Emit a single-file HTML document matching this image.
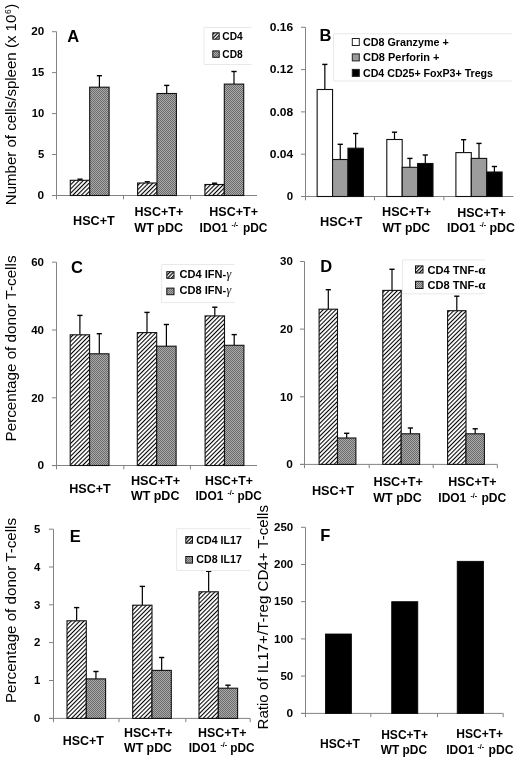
<!DOCTYPE html>
<html><head><meta charset="utf-8"><style>
html,body{margin:0;padding:0;background:#fff;}
svg{display:block;font-family:"Liberation Sans", sans-serif;will-change:transform;filter:blur(0.25px);}
</style></head><body>
<svg width="520" height="759" viewBox="0 0 520 759">
<defs>
<pattern id="hA" patternUnits="userSpaceOnUse" width="3.0" height="3.0" patternTransform="rotate(45)">
<rect width="3.0" height="3.0" fill="#fff"/><rect x="0" y="0" width="1.1" height="3.0" fill="#000"/></pattern>
<pattern id="hC" patternUnits="userSpaceOnUse" width="3.0" height="3.0" patternTransform="rotate(45)">
<rect width="3.0" height="3.0" fill="#fff"/><rect x="0" y="0" width="1.05" height="3.0" fill="#000"/></pattern>
<pattern id="hS" patternUnits="userSpaceOnUse" width="2.6" height="2.6" patternTransform="rotate(45)">
<rect width="2.6" height="2.6" fill="#fff"/><rect x="0" y="0" width="1.2" height="2.6" fill="#000"/></pattern>
<pattern id="chk" patternUnits="userSpaceOnUse" width="2" height="2">
<rect width="2" height="2" fill="#a9a9a9"/><rect width="1" height="1" fill="#6c6c6c"/><rect x="1" y="1" width="1" height="1" fill="#6c6c6c"/></pattern>
</defs>
<rect width="520" height="759" fill="#fff"/>
<line x1="56.5" y1="31.7" x2="56.5" y2="199.3" stroke="#838383" stroke-width="1"/>
<line x1="52.0" y1="195.5" x2="257" y2="195.5" stroke="#838383" stroke-width="1"/>
<line x1="52.0" y1="31.7" x2="56.5" y2="31.7" stroke="#838383" stroke-width="1"/>
<text x="44.2" y="35.4" font-size="10.5" font-weight="bold" text-anchor="end" textLength="13" lengthAdjust="spacingAndGlyphs">20</text>
<line x1="52.0" y1="72.6" x2="56.5" y2="72.6" stroke="#838383" stroke-width="1"/>
<text x="44.2" y="76.3" font-size="10.5" font-weight="bold" text-anchor="end" textLength="12.5" lengthAdjust="spacingAndGlyphs">15</text>
<line x1="52.0" y1="113.6" x2="56.5" y2="113.6" stroke="#838383" stroke-width="1"/>
<text x="44.2" y="117.3" font-size="10.5" font-weight="bold" text-anchor="end" textLength="12.5" lengthAdjust="spacingAndGlyphs">10</text>
<line x1="52.0" y1="154.5" x2="56.5" y2="154.5" stroke="#838383" stroke-width="1"/>
<text x="44.2" y="158.2" font-size="10.5" font-weight="bold" text-anchor="end" textLength="6.3" lengthAdjust="spacingAndGlyphs">5</text>
<line x1="52.0" y1="195.5" x2="56.5" y2="195.5" stroke="#838383" stroke-width="1"/>
<text x="44.2" y="199.2" font-size="10.5" font-weight="bold" text-anchor="end" textLength="6.6" lengthAdjust="spacingAndGlyphs">0</text>
<line x1="123.5" y1="195.5" x2="123.5" y2="199.3" stroke="#838383" stroke-width="1"/>
<line x1="190.5" y1="195.5" x2="190.5" y2="199.3" stroke="#838383" stroke-width="1"/>
<line x1="80.0" y1="180.3" x2="80.0" y2="179.2" stroke="#000" stroke-width="1.2"/>
<line x1="77.4" y1="179.2" x2="82.6" y2="179.2" stroke="#000" stroke-width="1.4"/>
<rect x="70.30" y="180.30" width="19.40" height="15.20" fill="url(#hA)" stroke="#111" stroke-width="1.1"/>
<line x1="99.4" y1="87.2" x2="99.4" y2="75.7" stroke="#000" stroke-width="1.2"/>
<line x1="96.80000000000001" y1="75.7" x2="102.0" y2="75.7" stroke="#000" stroke-width="1.4"/>
<rect x="89.70" y="87.20" width="19.40" height="108.30" fill="url(#chk)" stroke="#111" stroke-width="1.1"/>
<line x1="147.3" y1="183.0" x2="147.3" y2="181.8" stroke="#000" stroke-width="1.2"/>
<line x1="144.70000000000002" y1="181.8" x2="149.9" y2="181.8" stroke="#000" stroke-width="1.4"/>
<rect x="137.60" y="183.00" width="19.40" height="12.50" fill="url(#hA)" stroke="#111" stroke-width="1.1"/>
<line x1="166.7" y1="93.5" x2="166.7" y2="85.4" stroke="#000" stroke-width="1.2"/>
<line x1="164.1" y1="85.4" x2="169.29999999999998" y2="85.4" stroke="#000" stroke-width="1.4"/>
<rect x="157.00" y="93.50" width="19.40" height="102.00" fill="url(#chk)" stroke="#111" stroke-width="1.1"/>
<line x1="214.60000000000002" y1="184.5" x2="214.60000000000002" y2="183.2" stroke="#000" stroke-width="1.2"/>
<line x1="212.00000000000003" y1="183.2" x2="217.20000000000002" y2="183.2" stroke="#000" stroke-width="1.4"/>
<rect x="204.90" y="184.50" width="19.40" height="11.00" fill="url(#hA)" stroke="#111" stroke-width="1.1"/>
<line x1="234.0" y1="84.1" x2="234.0" y2="71.5" stroke="#000" stroke-width="1.2"/>
<line x1="231.4" y1="71.5" x2="236.6" y2="71.5" stroke="#000" stroke-width="1.4"/>
<rect x="224.30" y="84.10" width="19.40" height="111.40" fill="url(#chk)" stroke="#111" stroke-width="1.1"/>
<text x="67.3" y="41.9" font-size="16.5" font-weight="bold" text-anchor="start">A</text>
<path d="M251.5,27.5 H204 V64.5 H251.5" fill="none" stroke="#e9e9e9" stroke-width="1"/>
<rect x="212.80" y="32.80" width="6.40" height="6.40" fill="url(#hS)" stroke="#111" stroke-width="1"/>
<rect x="212.80" y="50.90" width="6.40" height="6.40" fill="url(#chk)" stroke="#111" stroke-width="1"/>
<text x="222.3" y="39.9" font-size="11.3" font-weight="bold" textLength="20.4" lengthAdjust="spacingAndGlyphs">CD4</text>
<text x="222.3" y="57.7" font-size="11.3" font-weight="bold" textLength="20.4" lengthAdjust="spacingAndGlyphs">CD8</text>
<text x="73" y="225.3" font-size="12.3" font-weight="bold" text-anchor="start" textLength="41.8" lengthAdjust="spacingAndGlyphs">HSC+T</text>
<text x="134.5" y="216.2" font-size="12.3" font-weight="bold" text-anchor="start" textLength="48.7" lengthAdjust="spacingAndGlyphs">HSC+T+</text>
<text x="134.3" y="231.5" font-size="12.3" font-weight="bold" text-anchor="start" textLength="48.9" lengthAdjust="spacingAndGlyphs">WT pDC</text>
<text x="209.3" y="215.8" font-size="12.3" font-weight="bold" text-anchor="start" textLength="48.8" lengthAdjust="spacingAndGlyphs">HSC+T+</text>
<text x="199.6" y="231.5" font-size="12.3" font-weight="bold" text-anchor="start" textLength="28.2" lengthAdjust="spacingAndGlyphs">IDO1</text>
<text x="231.6" y="227.0" font-size="7" font-weight="bold">-/-</text>
<text x="242.9" y="231.5" font-size="12.3" font-weight="bold" text-anchor="start" textLength="24.6" lengthAdjust="spacingAndGlyphs">pDC</text>
<text transform="translate(16.3,205.2) rotate(-90)" font-size="14.8" textLength="190.5" lengthAdjust="spacingAndGlyphs">Number of cells/spleen (x 10</text>
<text transform="translate(11.2,13.9) rotate(-90)" font-size="8.5">6</text>
<text transform="translate(16.3,8.8) rotate(-90)" font-size="14.8">)</text>
<line x1="305.5" y1="27.3" x2="305.5" y2="200.3" stroke="#838383" stroke-width="1"/>
<line x1="301.0" y1="196.5" x2="513.5" y2="196.5" stroke="#838383" stroke-width="1"/>
<line x1="301.0" y1="27.3" x2="305.5" y2="27.3" stroke="#838383" stroke-width="1"/>
<text x="293.2" y="31.0" font-size="10.5" font-weight="bold" text-anchor="end" textLength="23.4" lengthAdjust="spacingAndGlyphs">0.16</text>
<line x1="301.0" y1="69.6" x2="305.5" y2="69.6" stroke="#838383" stroke-width="1"/>
<text x="293.2" y="73.3" font-size="10.5" font-weight="bold" text-anchor="end" textLength="23.4" lengthAdjust="spacingAndGlyphs">0.12</text>
<line x1="301.0" y1="111.9" x2="305.5" y2="111.9" stroke="#838383" stroke-width="1"/>
<text x="293.2" y="115.60000000000001" font-size="10.5" font-weight="bold" text-anchor="end" textLength="23.4" lengthAdjust="spacingAndGlyphs">0.08</text>
<line x1="301.0" y1="154.2" x2="305.5" y2="154.2" stroke="#838383" stroke-width="1"/>
<text x="293.2" y="157.89999999999998" font-size="10.5" font-weight="bold" text-anchor="end" textLength="23.4" lengthAdjust="spacingAndGlyphs">0.04</text>
<line x1="301.0" y1="196.5" x2="305.5" y2="196.5" stroke="#838383" stroke-width="1"/>
<text x="293.2" y="200.2" font-size="10.5" font-weight="bold" text-anchor="end" textLength="6.4" lengthAdjust="spacingAndGlyphs">0</text>
<line x1="374.5" y1="196.5" x2="374.5" y2="200.3" stroke="#838383" stroke-width="1"/>
<line x1="443.9" y1="196.5" x2="443.9" y2="200.3" stroke="#838383" stroke-width="1"/>
<line x1="324.84999999999997" y1="89.5" x2="324.84999999999997" y2="64.4" stroke="#000" stroke-width="1.2"/>
<line x1="322.24999999999994" y1="64.4" x2="327.45" y2="64.4" stroke="#000" stroke-width="1.4"/>
<rect x="317.15" y="89.50" width="15.40" height="107.00" fill="#ffffff" stroke="#111" stroke-width="1.1"/>
<line x1="340.25" y1="159.5" x2="340.25" y2="144.3" stroke="#000" stroke-width="1.2"/>
<line x1="337.65" y1="144.3" x2="342.85" y2="144.3" stroke="#000" stroke-width="1.4"/>
<rect x="332.55" y="159.50" width="15.40" height="37.00" fill="#9c9c9c" stroke="#111" stroke-width="1.1"/>
<line x1="355.65" y1="148.2" x2="355.65" y2="133.5" stroke="#000" stroke-width="1.2"/>
<line x1="353.04999999999995" y1="133.5" x2="358.25" y2="133.5" stroke="#000" stroke-width="1.4"/>
<rect x="347.95" y="148.20" width="15.40" height="48.30" fill="#000000" stroke="#111" stroke-width="1.1"/>
<line x1="394.49999999999994" y1="139.5" x2="394.49999999999994" y2="132.2" stroke="#000" stroke-width="1.2"/>
<line x1="391.8999999999999" y1="132.2" x2="397.09999999999997" y2="132.2" stroke="#000" stroke-width="1.4"/>
<rect x="386.80" y="139.50" width="15.40" height="57.00" fill="#ffffff" stroke="#111" stroke-width="1.1"/>
<line x1="409.9" y1="167.3" x2="409.9" y2="158.4" stroke="#000" stroke-width="1.2"/>
<line x1="407.29999999999995" y1="158.4" x2="412.5" y2="158.4" stroke="#000" stroke-width="1.4"/>
<rect x="402.20" y="167.30" width="15.40" height="29.20" fill="#9c9c9c" stroke="#111" stroke-width="1.1"/>
<line x1="425.29999999999995" y1="163.5" x2="425.29999999999995" y2="155.0" stroke="#000" stroke-width="1.2"/>
<line x1="422.69999999999993" y1="155.0" x2="427.9" y2="155.0" stroke="#000" stroke-width="1.4"/>
<rect x="417.60" y="163.50" width="15.40" height="33.00" fill="#000000" stroke="#111" stroke-width="1.1"/>
<line x1="463.59999999999997" y1="152.6" x2="463.59999999999997" y2="139.7" stroke="#000" stroke-width="1.2"/>
<line x1="460.99999999999994" y1="139.7" x2="466.2" y2="139.7" stroke="#000" stroke-width="1.4"/>
<rect x="455.90" y="152.60" width="15.40" height="43.90" fill="#ffffff" stroke="#111" stroke-width="1.1"/>
<line x1="479.0" y1="158.4" x2="479.0" y2="143.4" stroke="#000" stroke-width="1.2"/>
<line x1="476.4" y1="143.4" x2="481.6" y2="143.4" stroke="#000" stroke-width="1.4"/>
<rect x="471.30" y="158.40" width="15.40" height="38.10" fill="#9c9c9c" stroke="#111" stroke-width="1.1"/>
<line x1="494.4" y1="172.0" x2="494.4" y2="166.5" stroke="#000" stroke-width="1.2"/>
<line x1="491.79999999999995" y1="166.5" x2="497.0" y2="166.5" stroke="#000" stroke-width="1.4"/>
<rect x="486.70" y="172.00" width="15.40" height="24.50" fill="#000000" stroke="#111" stroke-width="1.1"/>
<text x="319.5" y="40.5" font-size="16.5" font-weight="bold" text-anchor="start">B</text>
<path d="M512,33.8 H333.5 V81 H512" fill="none" stroke="#e9e9e9" stroke-width="1"/>
<rect x="352.30" y="38.50" width="7.00" height="7.00" fill="#ffffff" stroke="#222" stroke-width="1"/>
<rect x="352.30" y="53.90" width="7.00" height="7.00" fill="#9c9c9c" stroke="#222" stroke-width="1"/>
<rect x="352.30" y="69.40" width="7.00" height="7.00" fill="#000000" stroke="#222" stroke-width="1"/>
<text x="363" y="45.8" font-size="11.5" font-weight="bold" textLength="85.7" lengthAdjust="spacingAndGlyphs">CD8 Granzyme +</text>
<text x="363" y="61.1" font-size="11.5" font-weight="bold" textLength="76.5" lengthAdjust="spacingAndGlyphs">CD8 Perforin +</text>
<text x="363" y="76.6" font-size="11.5" font-weight="bold" textLength="130" lengthAdjust="spacingAndGlyphs">CD4 CD25+ FoxP3+ Tregs</text>
<text x="320" y="225.5" font-size="12.3" font-weight="bold" text-anchor="start" textLength="42.3" lengthAdjust="spacingAndGlyphs">HSC+T</text>
<text x="382" y="216.4" font-size="12.3" font-weight="bold" text-anchor="start" textLength="49.2" lengthAdjust="spacingAndGlyphs">HSC+T+</text>
<text x="382.6" y="231.5" font-size="12.3" font-weight="bold" text-anchor="start" textLength="47.5" lengthAdjust="spacingAndGlyphs">WT pDC</text>
<text x="457.2" y="216.6" font-size="12.3" font-weight="bold" text-anchor="start" textLength="48.6" lengthAdjust="spacingAndGlyphs">HSC+T+</text>
<text x="447" y="231.5" font-size="12.3" font-weight="bold" text-anchor="start" textLength="28.7" lengthAdjust="spacingAndGlyphs">IDO1</text>
<text x="479.5" y="227.0" font-size="7" font-weight="bold">-/-</text>
<text x="489.5" y="231.5" font-size="12.3" font-weight="bold" text-anchor="start" textLength="25.5" lengthAdjust="spacingAndGlyphs">pDC</text>
<line x1="56.5" y1="262.2" x2="56.5" y2="469.3" stroke="#838383" stroke-width="1"/>
<line x1="52.0" y1="465.5" x2="257" y2="465.5" stroke="#838383" stroke-width="1"/>
<line x1="52.0" y1="262.2" x2="56.5" y2="262.2" stroke="#838383" stroke-width="1"/>
<text x="44.0" y="265.9" font-size="10.5" font-weight="bold" text-anchor="end" textLength="12.8" lengthAdjust="spacingAndGlyphs">60</text>
<line x1="52.0" y1="330.0" x2="56.5" y2="330.0" stroke="#838383" stroke-width="1"/>
<text x="44.0" y="333.7" font-size="10.5" font-weight="bold" text-anchor="end" textLength="12.8" lengthAdjust="spacingAndGlyphs">40</text>
<line x1="52.0" y1="397.8" x2="56.5" y2="397.8" stroke="#838383" stroke-width="1"/>
<text x="44.0" y="401.5" font-size="10.5" font-weight="bold" text-anchor="end" textLength="12.8" lengthAdjust="spacingAndGlyphs">20</text>
<line x1="52.0" y1="465.6" x2="56.5" y2="465.6" stroke="#838383" stroke-width="1"/>
<text x="44.0" y="469.3" font-size="10.5" font-weight="bold" text-anchor="end" textLength="6.6" lengthAdjust="spacingAndGlyphs">0</text>
<line x1="123.8" y1="465.5" x2="123.8" y2="469.3" stroke="#838383" stroke-width="1"/>
<line x1="190.4" y1="465.5" x2="190.4" y2="469.3" stroke="#838383" stroke-width="1"/>
<line x1="79.89999999999999" y1="334.8" x2="79.89999999999999" y2="315.4" stroke="#000" stroke-width="1.2"/>
<line x1="77.3" y1="315.4" x2="82.49999999999999" y2="315.4" stroke="#000" stroke-width="1.4"/>
<rect x="70.20" y="334.80" width="19.40" height="130.70" fill="url(#hC)" stroke="#111" stroke-width="1.1"/>
<line x1="99.3" y1="353.8" x2="99.3" y2="333.7" stroke="#000" stroke-width="1.2"/>
<line x1="96.7" y1="333.7" x2="101.89999999999999" y2="333.7" stroke="#000" stroke-width="1.4"/>
<rect x="89.60" y="353.80" width="19.40" height="111.70" fill="url(#chk)" stroke="#111" stroke-width="1.1"/>
<line x1="147.0" y1="332.6" x2="147.0" y2="312.4" stroke="#000" stroke-width="1.2"/>
<line x1="144.4" y1="312.4" x2="149.6" y2="312.4" stroke="#000" stroke-width="1.4"/>
<rect x="137.30" y="332.60" width="19.40" height="132.90" fill="url(#hC)" stroke="#111" stroke-width="1.1"/>
<line x1="166.39999999999998" y1="346.2" x2="166.39999999999998" y2="324.5" stroke="#000" stroke-width="1.2"/>
<line x1="163.79999999999998" y1="324.5" x2="168.99999999999997" y2="324.5" stroke="#000" stroke-width="1.4"/>
<rect x="156.70" y="346.20" width="19.40" height="119.30" fill="url(#chk)" stroke="#111" stroke-width="1.1"/>
<line x1="214.8" y1="315.9" x2="214.8" y2="307.2" stroke="#000" stroke-width="1.2"/>
<line x1="212.20000000000002" y1="307.2" x2="217.4" y2="307.2" stroke="#000" stroke-width="1.4"/>
<rect x="205.10" y="315.90" width="19.40" height="149.60" fill="url(#hC)" stroke="#111" stroke-width="1.1"/>
<line x1="234.2" y1="345.3" x2="234.2" y2="334.6" stroke="#000" stroke-width="1.2"/>
<line x1="231.6" y1="334.6" x2="236.79999999999998" y2="334.6" stroke="#000" stroke-width="1.4"/>
<rect x="224.50" y="345.30" width="19.40" height="120.20" fill="url(#chk)" stroke="#111" stroke-width="1.1"/>
<text x="71.0" y="272.6" font-size="16.5" font-weight="bold" text-anchor="start">C</text>
<path d="M234.6,264.5 H161.6 V302.6 H234.6" fill="none" stroke="#e9e9e9" stroke-width="1"/>
<rect x="166.80" y="271.70" width="7.20" height="6.60" fill="url(#hS)" stroke="#111" stroke-width="1"/>
<rect x="166.80" y="288.10" width="7.20" height="6.60" fill="url(#chk)" stroke="#111" stroke-width="1"/>
<text x="179.6" y="278.0" font-size="11.3" font-weight="bold" textLength="46.6" lengthAdjust="spacingAndGlyphs">CD4 IFN-</text>
<text x="179.6" y="293.8" font-size="11.3" font-weight="bold" textLength="46.6" lengthAdjust="spacingAndGlyphs">CD8 IFN-</text>
<text x="226.4" y="278.0" font-size="12" font-style="italic" font-family="Liberation Serif">γ</text>
<text x="226.4" y="293.8" font-size="12" font-style="italic" font-family="Liberation Serif">γ</text>
<text x="69.2" y="493.4" font-size="12.3" font-weight="bold" text-anchor="start" textLength="41.6" lengthAdjust="spacingAndGlyphs">HSC+T</text>
<text x="130.9" y="484.7" font-size="12.3" font-weight="bold" text-anchor="start" textLength="49.3" lengthAdjust="spacingAndGlyphs">HSC+T+</text>
<text x="130.9" y="499.6" font-size="12.3" font-weight="bold" text-anchor="start" textLength="48.5" lengthAdjust="spacingAndGlyphs">WT pDC</text>
<text x="205" y="484.7" font-size="12.3" font-weight="bold" text-anchor="start" textLength="47.9" lengthAdjust="spacingAndGlyphs">HSC+T+</text>
<text x="195.5" y="499.6" font-size="12.3" font-weight="bold" text-anchor="start" textLength="27.8" lengthAdjust="spacingAndGlyphs">IDO1</text>
<text x="227.5" y="495.1" font-size="7" font-weight="bold">-/-</text>
<text x="237.5" y="499.6" font-size="12.3" font-weight="bold" text-anchor="start" textLength="24.3" lengthAdjust="spacingAndGlyphs">pDC</text>
<text transform="translate(16.2,441.5) rotate(-90)" font-size="14.8" textLength="186" lengthAdjust="spacingAndGlyphs">Percentage of donor T-cells</text>
<line x1="304.5" y1="261.5" x2="304.5" y2="468.2" stroke="#838383" stroke-width="1"/>
<line x1="300.0" y1="464.4" x2="497.4" y2="464.4" stroke="#838383" stroke-width="1"/>
<line x1="300.0" y1="261.5" x2="304.5" y2="261.5" stroke="#838383" stroke-width="1"/>
<text x="292.8" y="265.2" font-size="10.5" font-weight="bold" text-anchor="end" textLength="12.8" lengthAdjust="spacingAndGlyphs">30</text>
<line x1="300.0" y1="329.1" x2="304.5" y2="329.1" stroke="#838383" stroke-width="1"/>
<text x="292.8" y="332.8" font-size="10.5" font-weight="bold" text-anchor="end" textLength="12.8" lengthAdjust="spacingAndGlyphs">20</text>
<line x1="300.0" y1="396.8" x2="304.5" y2="396.8" stroke="#838383" stroke-width="1"/>
<text x="292.8" y="400.5" font-size="10.5" font-weight="bold" text-anchor="end" textLength="12.8" lengthAdjust="spacingAndGlyphs">10</text>
<line x1="300.0" y1="464.4" x2="304.5" y2="464.4" stroke="#838383" stroke-width="1"/>
<text x="292.8" y="468.09999999999997" font-size="10.5" font-weight="bold" text-anchor="end" textLength="6.6" lengthAdjust="spacingAndGlyphs">0</text>
<line x1="369.2" y1="464.4" x2="369.2" y2="468.2" stroke="#838383" stroke-width="1"/>
<line x1="433.2" y1="464.4" x2="433.2" y2="468.2" stroke="#838383" stroke-width="1"/>
<line x1="497.3" y1="464.4" x2="497.3" y2="468.2" stroke="#838383" stroke-width="1"/>
<line x1="328.3" y1="309.2" x2="328.3" y2="289.7" stroke="#000" stroke-width="1.2"/>
<line x1="325.7" y1="289.7" x2="330.90000000000003" y2="289.7" stroke="#000" stroke-width="1.4"/>
<rect x="319.10" y="309.20" width="18.40" height="155.20" fill="url(#hC)" stroke="#111" stroke-width="1.1"/>
<line x1="346.7" y1="438.0" x2="346.7" y2="433.3" stroke="#000" stroke-width="1.2"/>
<line x1="344.09999999999997" y1="433.3" x2="349.3" y2="433.3" stroke="#000" stroke-width="1.4"/>
<rect x="337.50" y="438.00" width="18.40" height="26.40" fill="url(#chk)" stroke="#111" stroke-width="1.1"/>
<line x1="392.0" y1="290.4" x2="392.0" y2="269.3" stroke="#000" stroke-width="1.2"/>
<line x1="389.4" y1="269.3" x2="394.6" y2="269.3" stroke="#000" stroke-width="1.4"/>
<rect x="382.80" y="290.40" width="18.40" height="174.00" fill="url(#hC)" stroke="#111" stroke-width="1.1"/>
<line x1="410.4" y1="433.8" x2="410.4" y2="428.0" stroke="#000" stroke-width="1.2"/>
<line x1="407.79999999999995" y1="428.0" x2="413.0" y2="428.0" stroke="#000" stroke-width="1.4"/>
<rect x="401.20" y="433.80" width="18.40" height="30.60" fill="url(#chk)" stroke="#111" stroke-width="1.1"/>
<line x1="456.8" y1="310.7" x2="456.8" y2="296.2" stroke="#000" stroke-width="1.2"/>
<line x1="454.2" y1="296.2" x2="459.40000000000003" y2="296.2" stroke="#000" stroke-width="1.4"/>
<rect x="447.60" y="310.70" width="18.40" height="153.70" fill="url(#hC)" stroke="#111" stroke-width="1.1"/>
<line x1="475.2" y1="433.8" x2="475.2" y2="428.8" stroke="#000" stroke-width="1.2"/>
<line x1="472.59999999999997" y1="428.8" x2="477.8" y2="428.8" stroke="#000" stroke-width="1.4"/>
<rect x="466.00" y="433.80" width="18.40" height="30.60" fill="url(#chk)" stroke="#111" stroke-width="1.1"/>
<text x="320.3" y="272.2" font-size="16.5" font-weight="bold" text-anchor="start">D</text>
<path d="M485,259.9 H402.5 V293.8 H485" fill="none" stroke="#e9e9e9" stroke-width="1"/>
<rect x="415.50" y="265.90" width="7.50" height="7.10" fill="url(#hS)" stroke="#111" stroke-width="1"/>
<rect x="415.50" y="281.30" width="7.50" height="7.20" fill="url(#chk)" stroke="#111" stroke-width="1"/>
<text x="427.6" y="273.7" font-size="11.3" font-weight="bold" textLength="50.5" lengthAdjust="spacingAndGlyphs">CD4 TNF-</text>
<text x="427.6" y="288.9" font-size="11.3" font-weight="bold" textLength="50.5" lengthAdjust="spacingAndGlyphs">CD8 TNF-</text>
<text x="478.3" y="273.7" font-size="13" font-weight="bold" font-family="Liberation Serif">α</text>
<text x="478.3" y="288.9" font-size="13" font-weight="bold" font-family="Liberation Serif">α</text>
<text x="311.9" y="494.9" font-size="12.3" font-weight="bold" text-anchor="start" textLength="42" lengthAdjust="spacingAndGlyphs">HSC+T</text>
<text x="373.5" y="486.3" font-size="12.3" font-weight="bold" text-anchor="start" textLength="49.3" lengthAdjust="spacingAndGlyphs">HSC+T+</text>
<text x="373.3" y="501.5" font-size="12.3" font-weight="bold" text-anchor="start" textLength="48.5" lengthAdjust="spacingAndGlyphs">WT pDC</text>
<text x="448.2" y="486.4" font-size="12.3" font-weight="bold" text-anchor="start" textLength="48.4" lengthAdjust="spacingAndGlyphs">HSC+T+</text>
<text x="438.3" y="502" font-size="12.3" font-weight="bold" text-anchor="start" textLength="28" lengthAdjust="spacingAndGlyphs">IDO1</text>
<text x="470.5" y="497.5" font-size="7" font-weight="bold">-/-</text>
<text x="481.4" y="502" font-size="12.3" font-weight="bold" text-anchor="start" textLength="24.8" lengthAdjust="spacingAndGlyphs">pDC</text>
<line x1="53.5" y1="529.2" x2="53.5" y2="722.1999999999999" stroke="#838383" stroke-width="1"/>
<line x1="49.0" y1="718.4" x2="250.2" y2="718.4" stroke="#838383" stroke-width="1"/>
<line x1="49.0" y1="529.2" x2="53.5" y2="529.2" stroke="#838383" stroke-width="1"/>
<text x="40.3" y="532.9000000000001" font-size="10.5" font-weight="bold" text-anchor="end" textLength="6.3" lengthAdjust="spacingAndGlyphs">5</text>
<line x1="49.0" y1="567.0" x2="53.5" y2="567.0" stroke="#838383" stroke-width="1"/>
<text x="40.3" y="570.7" font-size="10.5" font-weight="bold" text-anchor="end" textLength="6.3" lengthAdjust="spacingAndGlyphs">4</text>
<line x1="49.0" y1="604.8" x2="53.5" y2="604.8" stroke="#838383" stroke-width="1"/>
<text x="40.3" y="608.5" font-size="10.5" font-weight="bold" text-anchor="end" textLength="6.3" lengthAdjust="spacingAndGlyphs">3</text>
<line x1="49.0" y1="642.6" x2="53.5" y2="642.6" stroke="#838383" stroke-width="1"/>
<text x="40.3" y="646.3000000000001" font-size="10.5" font-weight="bold" text-anchor="end" textLength="6.3" lengthAdjust="spacingAndGlyphs">2</text>
<line x1="49.0" y1="680.5" x2="53.5" y2="680.5" stroke="#838383" stroke-width="1"/>
<text x="40.3" y="684.2" font-size="10.5" font-weight="bold" text-anchor="end" textLength="6.3" lengthAdjust="spacingAndGlyphs">1</text>
<line x1="49.0" y1="718.4" x2="53.5" y2="718.4" stroke="#838383" stroke-width="1"/>
<text x="40.3" y="722.1" font-size="10.5" font-weight="bold" text-anchor="end" textLength="6.6" lengthAdjust="spacingAndGlyphs">0</text>
<line x1="119.0" y1="718.4" x2="119.0" y2="722.1999999999999" stroke="#838383" stroke-width="1"/>
<line x1="185.8" y1="718.4" x2="185.8" y2="722.1999999999999" stroke="#838383" stroke-width="1"/>
<line x1="250.2" y1="718.4" x2="250.2" y2="722.1999999999999" stroke="#838383" stroke-width="1"/>
<line x1="76.65" y1="620.8" x2="76.65" y2="607.6" stroke="#000" stroke-width="1.2"/>
<line x1="74.05000000000001" y1="607.6" x2="79.25" y2="607.6" stroke="#000" stroke-width="1.4"/>
<rect x="67.00" y="620.80" width="19.30" height="97.60" fill="url(#hC)" stroke="#111" stroke-width="1.1"/>
<line x1="95.94999999999999" y1="678.9" x2="95.94999999999999" y2="671.5" stroke="#000" stroke-width="1.2"/>
<line x1="93.35" y1="671.5" x2="98.54999999999998" y2="671.5" stroke="#000" stroke-width="1.4"/>
<rect x="86.30" y="678.90" width="19.30" height="39.50" fill="url(#chk)" stroke="#111" stroke-width="1.1"/>
<line x1="142.35" y1="605.2" x2="142.35" y2="586.4" stroke="#000" stroke-width="1.2"/>
<line x1="139.75" y1="586.4" x2="144.95" y2="586.4" stroke="#000" stroke-width="1.4"/>
<rect x="132.70" y="605.20" width="19.30" height="113.20" fill="url(#hC)" stroke="#111" stroke-width="1.1"/>
<line x1="161.65" y1="670.4" x2="161.65" y2="657.5" stroke="#000" stroke-width="1.2"/>
<line x1="159.05" y1="657.5" x2="164.25" y2="657.5" stroke="#000" stroke-width="1.4"/>
<rect x="152.00" y="670.40" width="19.30" height="48.00" fill="url(#chk)" stroke="#111" stroke-width="1.1"/>
<line x1="208.65" y1="591.8" x2="208.65" y2="571.3" stroke="#000" stroke-width="1.2"/>
<line x1="206.05" y1="571.3" x2="211.25" y2="571.3" stroke="#000" stroke-width="1.4"/>
<rect x="199.00" y="591.80" width="19.30" height="126.60" fill="url(#hC)" stroke="#111" stroke-width="1.1"/>
<line x1="227.95000000000002" y1="688.2" x2="227.95000000000002" y2="685.2" stroke="#000" stroke-width="1.2"/>
<line x1="225.35000000000002" y1="685.2" x2="230.55" y2="685.2" stroke="#000" stroke-width="1.4"/>
<rect x="218.30" y="688.20" width="19.30" height="30.20" fill="url(#chk)" stroke="#111" stroke-width="1.1"/>
<text x="69.7" y="541.7" font-size="16.5" font-weight="bold" text-anchor="start">E</text>
<path d="M250.5,528.7 H176.6 V570.5 H250.5" fill="none" stroke="#e9e9e9" stroke-width="1"/>
<rect x="185.80" y="536.60" width="6.70" height="6.60" fill="url(#hS)" stroke="#111" stroke-width="1"/>
<rect x="185.80" y="556.50" width="6.70" height="6.60" fill="url(#chk)" stroke="#111" stroke-width="1"/>
<text x="196.3" y="543.5" font-size="11.3" font-weight="bold" textLength="45.5" lengthAdjust="spacingAndGlyphs">CD4 IL17</text>
<text x="196.3" y="563.4" font-size="11.3" font-weight="bold" textLength="45.5" lengthAdjust="spacingAndGlyphs">CD8 IL17</text>
<text x="62.7" y="745.4" font-size="12.3" font-weight="bold" text-anchor="start" textLength="41.2" lengthAdjust="spacingAndGlyphs">HSC+T</text>
<text x="124" y="736.8" font-size="12.3" font-weight="bold" text-anchor="start" textLength="48.5" lengthAdjust="spacingAndGlyphs">HSC+T+</text>
<text x="124" y="751.9" font-size="12.3" font-weight="bold" text-anchor="start" textLength="48" lengthAdjust="spacingAndGlyphs">WT pDC</text>
<text x="198.1" y="736.8" font-size="12.3" font-weight="bold" text-anchor="start" textLength="48.4" lengthAdjust="spacingAndGlyphs">HSC+T+</text>
<text x="188.7" y="751.9" font-size="12.3" font-weight="bold" text-anchor="start" textLength="27.6" lengthAdjust="spacingAndGlyphs">IDO1</text>
<text x="220.5" y="747.4" font-size="7" font-weight="bold">-/-</text>
<text x="230.3" y="751.9" font-size="12.3" font-weight="bold" text-anchor="start" textLength="24.3" lengthAdjust="spacingAndGlyphs">pDC</text>
<text transform="translate(15.5,703) rotate(-90)" font-size="14.8" textLength="185" lengthAdjust="spacingAndGlyphs">Percentage of donor T-cells</text>
<line x1="305.5" y1="527.3" x2="305.5" y2="717.1999999999999" stroke="#838383" stroke-width="1"/>
<line x1="301.0" y1="713.4" x2="503.2" y2="713.4" stroke="#838383" stroke-width="1"/>
<line x1="301.0" y1="527.3" x2="305.5" y2="527.3" stroke="#838383" stroke-width="1"/>
<text x="293.2" y="531.0" font-size="10.5" font-weight="bold" text-anchor="end" textLength="19.2" lengthAdjust="spacingAndGlyphs">250</text>
<line x1="301.0" y1="564.5" x2="305.5" y2="564.5" stroke="#838383" stroke-width="1"/>
<text x="293.2" y="568.2" font-size="10.5" font-weight="bold" text-anchor="end" textLength="19.2" lengthAdjust="spacingAndGlyphs">200</text>
<line x1="301.0" y1="601.7" x2="305.5" y2="601.7" stroke="#838383" stroke-width="1"/>
<text x="293.2" y="605.4000000000001" font-size="10.5" font-weight="bold" text-anchor="end" textLength="19.2" lengthAdjust="spacingAndGlyphs">150</text>
<line x1="301.0" y1="638.9" x2="305.5" y2="638.9" stroke="#838383" stroke-width="1"/>
<text x="293.2" y="642.6" font-size="10.5" font-weight="bold" text-anchor="end" textLength="19.2" lengthAdjust="spacingAndGlyphs">100</text>
<line x1="301.0" y1="676.1" x2="305.5" y2="676.1" stroke="#838383" stroke-width="1"/>
<text x="293.2" y="679.8000000000001" font-size="10.5" font-weight="bold" text-anchor="end" textLength="12.8" lengthAdjust="spacingAndGlyphs">50</text>
<line x1="301.0" y1="713.4" x2="305.5" y2="713.4" stroke="#838383" stroke-width="1"/>
<text x="293.2" y="717.1" font-size="10.5" font-weight="bold" text-anchor="end" textLength="6.6" lengthAdjust="spacingAndGlyphs">0</text>
<line x1="370.8" y1="713.4" x2="370.8" y2="717.1999999999999" stroke="#838383" stroke-width="1"/>
<line x1="437.5" y1="713.4" x2="437.5" y2="717.1999999999999" stroke="#838383" stroke-width="1"/>
<line x1="503.2" y1="713.4" x2="503.2" y2="717.1999999999999" stroke="#838383" stroke-width="1"/>
<rect x="325.40" y="634.00" width="26.00" height="79.40" fill="#000" stroke="#000" stroke-width="0.8"/>
<rect x="391.70" y="601.70" width="26.10" height="111.70" fill="#000" stroke="#000" stroke-width="0.8"/>
<rect x="457.20" y="561.30" width="26.30" height="152.10" fill="#000" stroke="#000" stroke-width="0.8"/>
<text x="320.3" y="540.5" font-size="16.5" font-weight="bold" text-anchor="start">F</text>
<text x="320" y="747.5" font-size="12.3" font-weight="bold" text-anchor="start" textLength="40" lengthAdjust="spacingAndGlyphs">HSC+T</text>
<text x="381.2" y="739.2" font-size="12.3" font-weight="bold" text-anchor="start" textLength="46.8" lengthAdjust="spacingAndGlyphs">HSC+T+</text>
<text x="380.8" y="753.8" font-size="12.3" font-weight="bold" text-anchor="start" textLength="46.2" lengthAdjust="spacingAndGlyphs">WT pDC</text>
<text x="456.2" y="737.8" font-size="12.3" font-weight="bold" text-anchor="start" textLength="46.9" lengthAdjust="spacingAndGlyphs">HSC+T+</text>
<text x="446.2" y="753.5" font-size="12.3" font-weight="bold" text-anchor="start" textLength="28" lengthAdjust="spacingAndGlyphs">IDO1</text>
<text x="477.5" y="749.0" font-size="7" font-weight="bold">-/-</text>
<text x="488.5" y="753.5" font-size="12.3" font-weight="bold" text-anchor="start" textLength="25" lengthAdjust="spacingAndGlyphs">pDC</text>
<text transform="translate(268.3,729.5) rotate(-90)" font-size="14.8" textLength="224.5" lengthAdjust="spacingAndGlyphs">Ratio of IL17+/T-reg CD4+ T-cells</text>
</svg>
</body></html>
